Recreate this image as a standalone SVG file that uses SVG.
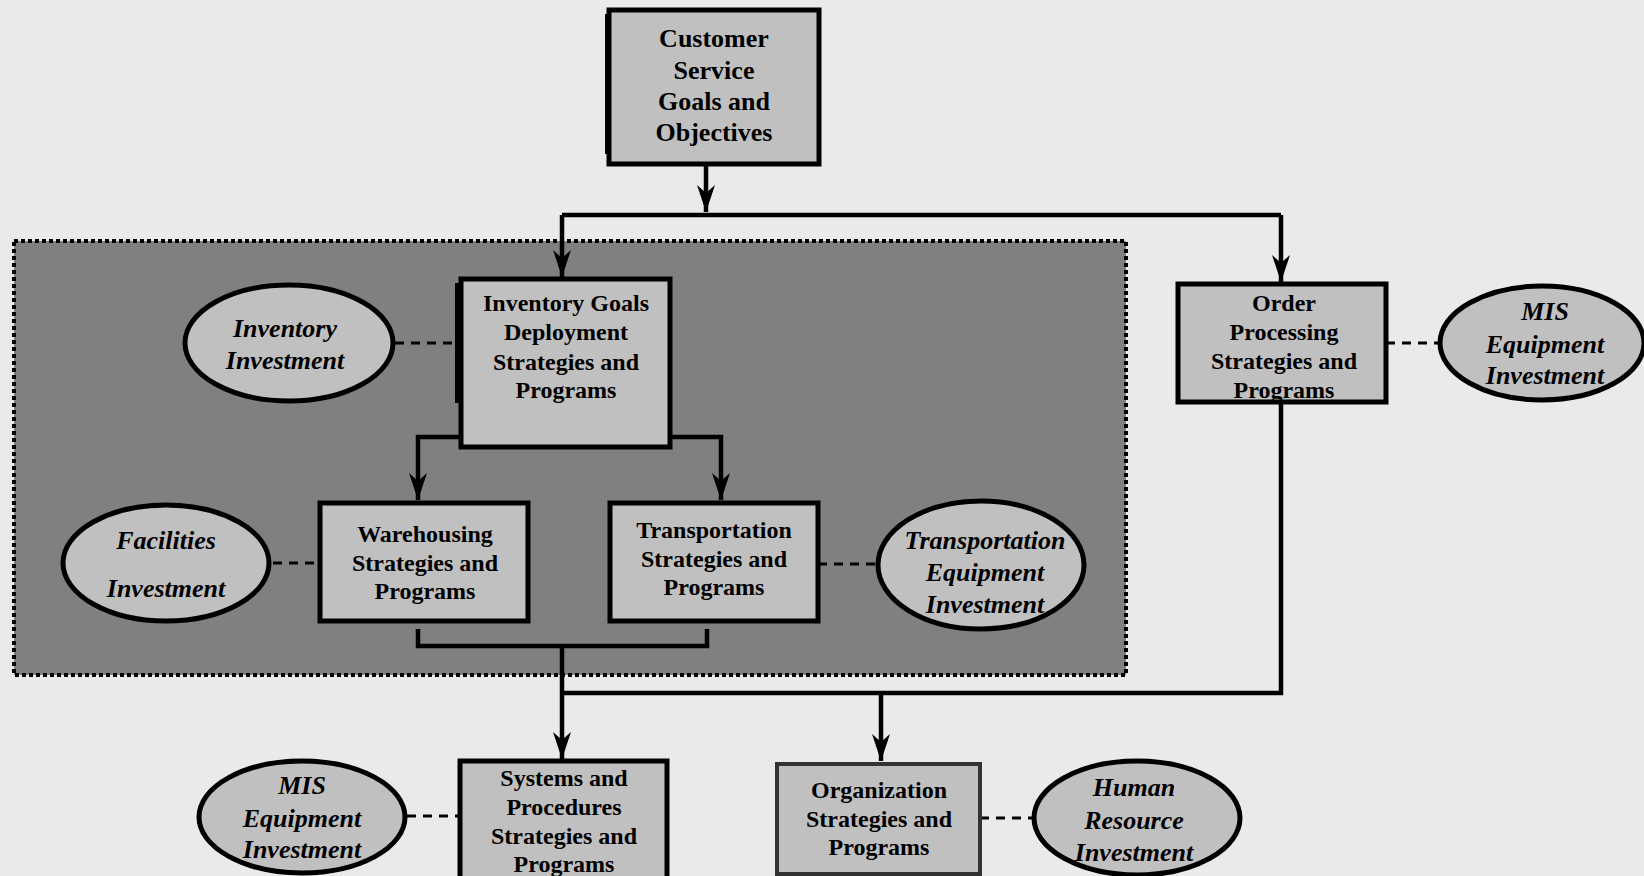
<svg xmlns="http://www.w3.org/2000/svg" width="1644" height="876" viewBox="0 0 1644 876">
<style>
.box{fill:#c0c0c0;stroke:#000;stroke-width:5}
.ell{fill:#c0c0c0;stroke:#000;stroke-width:5}
.bt{font-family:"Liberation Serif","Times New Roman",serif;font-weight:bold;font-size:24px;fill:#000;text-anchor:middle}
.it{font-family:"Liberation Serif","Times New Roman",serif;font-weight:bold;font-style:italic;font-size:26px;fill:#000;text-anchor:middle}
.ln{fill:none;stroke:#000;stroke-width:4.5}
.dash{fill:none;stroke:#000;stroke-width:3;stroke-dasharray:9 7}
</style>
<defs>
<marker id="arr" markerUnits="userSpaceOnUse" markerWidth="32" markerHeight="24" viewBox="-30 -12 32 24" refX="0" refY="0" orient="auto">
<path d="M0,0 L-27,-9 L-19,0 L-27,9 Z" fill="#000"/>
</marker>
</defs>
<rect x="0" y="0" width="1644" height="876" fill="#eaeaea"/>
<g id="region">
<rect x="14" y="241" width="1112" height="434" fill="#808080" stroke="#000" stroke-width="4" stroke-dasharray="4 3"/>
</g>
<g id="connectors">
<path class="ln" d="M706,165 L706,212" marker-end="url(#arr)"/>
<path class="ln" d="M562,215 L1281,215"/>
<path class="ln" d="M562,215 L562,277" marker-end="url(#arr)"/>
<path class="ln" d="M1281,215 L1281,282" marker-end="url(#arr)"/>
<path class="ln" d="M461,437 L418,437 L418,500" marker-end="url(#arr)"/>
<path class="ln" d="M670,437 L721,437 L721,500" marker-end="url(#arr)"/>
<path class="ln" d="M418,629 L418,646 L707,646 L707,629"/>
<path class="ln" d="M562,646 L562,759" marker-end="url(#arr)"/>
<path class="ln" d="M1281,403 L1281,693 L562,693"/>
<path class="ln" d="M881,693 L881,761" marker-end="url(#arr)"/>
<path class="dash" d="M395,343 L458,343"/>
<path class="dash" d="M273,563 L320,563"/>
<path class="dash" d="M818,564 L879,564"/>
<path class="dash" d="M1386,343 L1439,343"/>
<path class="dash" d="M407,816 L458,816"/>
<path class="dash" d="M980,818 L1035,818"/>
</g>
<g id="customer-service">
<rect class="box" x="609" y="10" width="210" height="154"/>
<rect x="605" y="14" width="3" height="140" fill="#000"/>
<text class="bt" style="font-size:26px" x="714" y="47">Customer</text>
<text class="bt" style="font-size:26px" x="714" y="79">Service</text>
<text class="bt" style="font-size:26px" x="714" y="110">Goals and</text>
<text class="bt" style="font-size:26px" x="714" y="141">Objectives</text>
</g>
<g id="inventory-goals">
<rect class="box" x="461" y="279" width="209" height="168"/>
<rect x="455" y="283" width="5" height="120" fill="#000"/>
<text class="bt" x="566" y="311">Inventory Goals</text>
<text class="bt" x="566" y="340">Deployment</text>
<text class="bt" x="566" y="370">Strategies and</text>
<text class="bt" x="566" y="398">Programs</text>
</g>
<g id="inventory-investment">
<ellipse class="ell" cx="289" cy="343" rx="104" ry="58"/>
<text class="it" x="285" y="337">Inventory</text>
<text class="it" x="285" y="369">Investment</text>
</g>
<g id="warehousing">
<rect class="box" x="320" y="503" width="208" height="118"/>
<text class="bt" x="425" y="542">Warehousing</text>
<text class="bt" x="425" y="571">Strategies and</text>
<text class="bt" x="425" y="599">Programs</text>
</g>
<g id="facilities-investment">
<ellipse class="ell" cx="166" cy="563" rx="103" ry="58"/>
<text class="it" x="166" y="549">Facilities</text>
<text class="it" x="166" y="597">Investment</text>
</g>
<g id="transportation">
<rect class="box" x="610" y="503" width="208" height="118"/>
<text class="bt" x="714" y="538">Transportation</text>
<text class="bt" x="714" y="567">Strategies and</text>
<text class="bt" x="714" y="595">Programs</text>
</g>
<g id="transportation-equipment-investment">
<ellipse class="ell" cx="981" cy="565" rx="103" ry="64"/>
<text class="it" x="985" y="549">Transportation</text>
<text class="it" x="985" y="581">Equipment</text>
<text class="it" x="985" y="613">Investment</text>
</g>
<g id="order-processing">
<rect class="box" x="1178" y="284" width="208" height="118"/>
<text class="bt" x="1284" y="311">Order</text>
<text class="bt" x="1284" y="340">Processing</text>
<text class="bt" x="1284" y="369">Strategies and</text>
<text class="bt" x="1284" y="398">Programs</text>
</g>
<g id="mis-equipment-investment-right">
<ellipse class="ell" cx="1542" cy="343" rx="102" ry="57"/>
<text class="it" x="1545" y="320">MIS</text>
<text class="it" x="1545" y="353">Equipment</text>
<text class="it" x="1545" y="384">Investment</text>
</g>
<g id="systems-procedures">
<rect class="box" x="460" y="761" width="207" height="130"/>
<text class="bt" x="564" y="786">Systems and</text>
<text class="bt" x="564" y="815">Procedures</text>
<text class="bt" x="564" y="844">Strategies and</text>
<text class="bt" x="564" y="872">Programs</text>
</g>
<g id="mis-equipment-investment-left">
<ellipse class="ell" cx="302" cy="817" rx="103" ry="56"/>
<text class="it" x="302" y="794">MIS</text>
<text class="it" x="302" y="827">Equipment</text>
<text class="it" x="302" y="858">Investment</text>
</g>
<g id="organization">
<rect class="box" x="777" y="764" width="203" height="110" style="stroke:#333;stroke-width:4"/>
<text class="bt" x="879" y="798">Organization</text>
<text class="bt" x="879" y="827">Strategies and</text>
<text class="bt" x="879" y="855">Programs</text>
</g>
<g id="human-resource-investment">
<ellipse class="ell" cx="1137" cy="818" rx="103" ry="57"/>
<text class="it" x="1134" y="796">Human</text>
<text class="it" x="1134" y="829">Resource</text>
<text class="it" x="1134" y="861">Investment</text>
</g>
</svg>
